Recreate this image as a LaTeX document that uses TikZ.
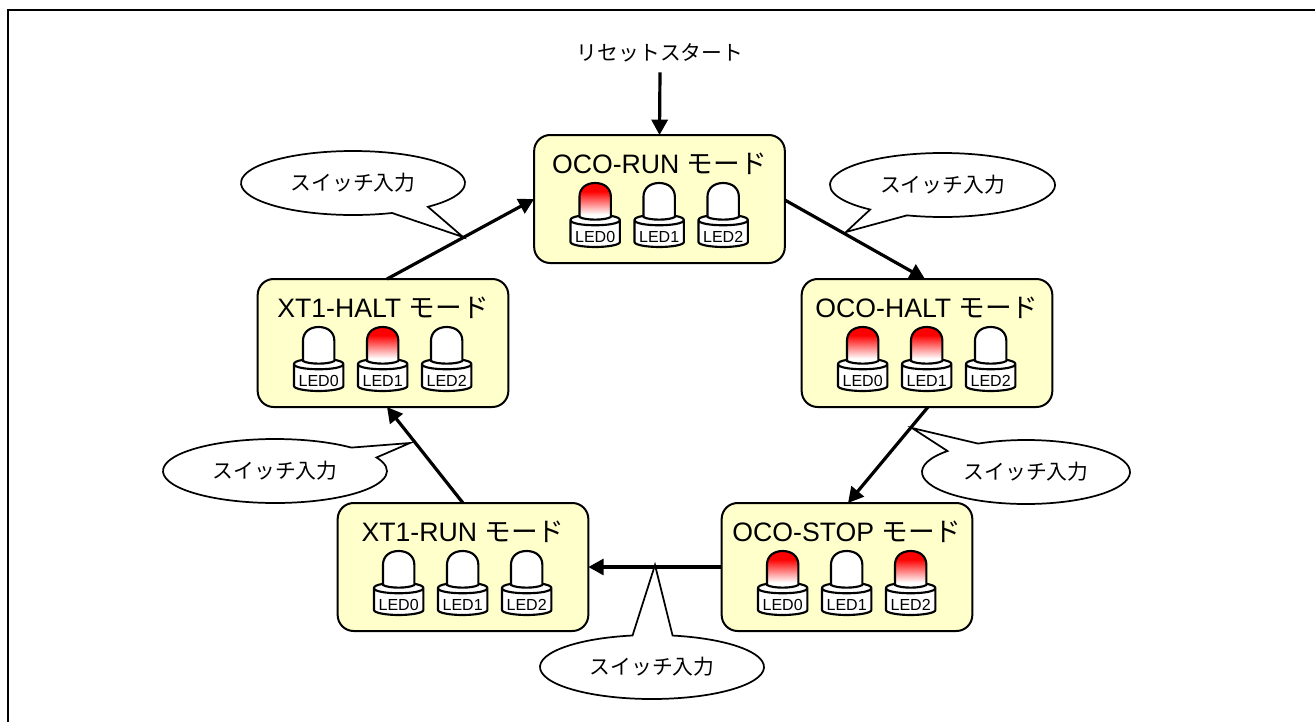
\documentclass[tikz,border=0pt]{standalone}
\usepackage{fontspec}
\setmainfont{Liberation Sans}
\newfontfamily\cjk{Noto Sans CJK JP}
\usetikzlibrary{arrows.meta,calc}
\definecolor{boxfill}{HTML}{FFFFCC}
\pgfdeclareverticalshading{ledred}{100bp}{color(0bp)=(white); color(33bp)=(white); color(64bp)=(red); color(100bp)=(red)}
\tikzset{
  modebox/.style={draw=black,line width=1.5pt,fill=boxfill,rounded corners=12pt,minimum width=188pt,minimum height=96pt,inner sep=0pt,outer sep=0pt},
  modetitle/.style={font=\fontsize{20pt}{22pt}\selectfont,inner sep=0pt},
  flow/.style={line width=2.4pt,-{Triangle[length=11.5pt,width=12pt]}},
  bubbleshape/.style={draw=black,fill=white,line width=1.3pt},
  bubbletext/.style={inner sep=0pt,font=\cjk\fontsize{15.6pt}{18pt}\selectfont},
  ledline/.style={draw=black,line width=1.6pt,line join=round},
  ledlabel/.style={font=\fontsize{12pt}{14pt}\selectfont,inner sep=0pt},
  ledlit/.style={shade,shading=ledred},
  ledoff/.style={fill=white}
}
% \ledat{name}{x in box}{box name}{lit style}{label}
\newcommand{\ledat}[5]{%
  \begin{scope}[shift={($(#3.north west)+(#2,0)$)}]
    \path[ledline,fill=white] (-24.7,85) -- (-24.7,107) .. controls (-24.7,110) and (-12,112) .. (0,112) .. controls (12,112) and (24.7,110) .. (24.7,107) -- (24.7,85) .. controls (24.7,78) and (-24.7,78) .. (-24.7,85) .. controls (-24.7,92) and (24.7,92) .. (24.7,85);
    \path[ledline,#4] (-15.7,82) -- (-15.7,62) .. controls (-15.7,53) and (-9,48) .. (0,48) .. controls (9,48) and (15.7,53) .. (15.7,62) -- (15.7,82) .. controls (10,85.5) and (-10,85.5) .. cycle;
    \node[ledlabel] (#1) at (0,102) {#5};
  \end{scope}}
\newcommand{\modeat}[6]{% box name, centre, title, three led styles
  \node[modebox] (#1) at (#2) {};
  \node[modetitle] (#1-title) at ($(#1.north)+(0,28.5)$) {#3 {\cjk モード}};
  \ledat{#1-led0}{61}{#1}{#4}{LED0}
  \ledat{#1-led1}{125}{#1}{#5}{LED1}
  \ledat{#1-led2}{189}{#1}{#6}{LED2}}
% \bubbleat{name}{centre}{x radius}{start angle}{end angle}{tip}
\newcommand{\bubbleat}[6]{%
  \coordinate (#1-c) at (#2);
  \coordinate (#1-tip) at (#6);
  \draw[bubbleshape] (#1-tip) -- ([shift={(#4:#3 and 24pt)}]#1-c) arc[start angle=#4,end angle=#5,x radius=#3,y radius=24pt] -- cycle;
  \node[bubbletext] (#1) at (#1-c) {スイッチ入力};}
\begin{document}
\begin{tikzpicture}[x=0.75pt,y=-0.75pt]
\useasboundingbox (0,0) rectangle (1315,722);
\fill[white] (0,0) rectangle (1315,722);
\draw[line width=1.5pt] (8,722) -- (8,10) -- (1315,10);

\modeat{run}{659.5,199}{OCO-RUN}{ledlit}{ledoff}{ledoff}
\modeat{ohalt}{927,343}{OCO-HALT}{ledlit}{ledlit}{ledoff}
\modeat{xhalt}{383,343}{XT1-HALT}{ledoff}{ledlit}{ledoff}
\modeat{stop}{847,567}{OCO-STOP}{ledlit}{ledoff}{ledlit}
\modeat{xrun}{463,567}{XT1-RUN}{ledoff}{ledoff}{ledoff}

\node[font=\cjk\fontsize{15.6pt}{18pt}\selectfont,inner sep=0pt,minimum height=28.5pt] (start) at (660,53) {リセットスタート};

\draw[flow] (start.south) -- (run.north);
\draw[flow] ($(run.east)+(0,1)$) -- ($(ohalt.north)+(-2,0)$);
\draw[flow] ($(ohalt.south)+(1,0)$) -- ($(stop.north)+(1,0)$);
\draw[flow] (stop.west) -- (xrun.east);
\draw[flow] (xrun.north) -- ($(xhalt.south)+(4,0)$);
\draw[flow] ($(xhalt.north)+(4,0)$) -- (run.west);

\bubbleat{sw1}{353,183}{84pt}{-48}{290.4}{463,237}
\bubbleat{sw2}{942.5,185}{84.4pt}{251.6}{590}{846,232}
\bubbleat{sw3}{1026,472}{78pt}{139}{477.4}{912,428}
\bubbleat{sw4}{652,667}{84pt}{100}{439.4}{655,565}
\bubbleat{sw5}{275,471}{84pt}{47}{385}{410,443}
\end{tikzpicture}
\end{document}
